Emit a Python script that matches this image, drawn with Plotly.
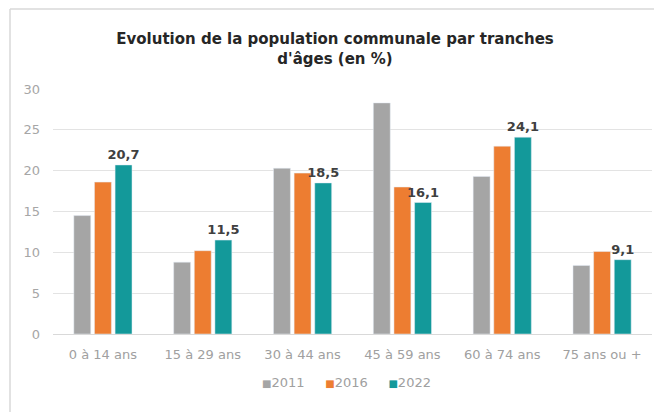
import plotly.graph_objects as go

categories = ["0 à 14 ans", "15 à 29 ans", "30 à 44 ans", "45 à 59 ans", "60 à 74 ans", "75 ans ou +"]
v2011 = [14.5, 8.8, 20.3, 28.3, 19.3, 8.4]
v2016 = [18.6, 10.2, 19.7, 18.0, 23.0, 10.1]
v2022 = [20.7, 11.5, 18.5, 16.1, 24.1, 9.1]
labels2022 = ["20,7", "11,5", "18,5", "16,1", "24,1", "9,1"]
series_names = ["2011", "2016", "2022"]
colors = ["#a5a5a5", "#ed7d31", "#13999a"]
yticks = [0, 5, 10, 15, 20, 25, 30]

FONT = "DejaVu Sans"
OFF = 8  # page body margin

fig = go.Figure()
fig.add_bar(x=categories, y=v2011, name=series_names[0], marker_color=colors[0])
fig.add_bar(x=categories, y=v2016, name=series_names[1], marker_color=colors[1])
fig.add_bar(x=categories, y=v2022, name=series_names[2], marker_color=colors[2],
            text=labels2022, textposition="outside", cliponaxis=False, constraintext="none",
            textfont=dict(family=FONT, size=13, color="#404040", weight="bold"))

W, H = 662 - OFF, 412 - OFF
L, R = 53 - OFF, W - (652 - OFF)
T, B = 89 - OFF, H - (334 - OFF)
pw, ph = W - L - R, H - T - B

def px_x(px):
    return (px - OFF - L) / pw

def px_y(py):
    return (H - B - (py - OFF)) / ph

legend_text = "     ".join(
    f"<span style='color:{c};font-size:10px'>■</span>{n}" for n, c in zip(series_names, colors)
)

fig.update_layout(
    width=W, height=H,
    margin=dict(l=L, r=R, t=T, b=B),
    paper_bgcolor="white", plot_bgcolor="white",
    barmode="group", bargap=0.38, bargroupgap=0.18,
    showlegend=False,
    font=dict(family=FONT, color="#8c8c8c", size=12),
    title=dict(text="<b>Evolution de la population communale par tranches<br>d'âges (en %)</b>",
               x=0.5, xanchor="center", y=1 - (44 - OFF) / H, yanchor="middle",
               font=dict(family=FONT, size=15, color="#262626")),
    xaxis=dict(showgrid=False, showline=True, linecolor="#d9d9d9", ticks="",
               ticklabelstandoff=8,
               tickfont=dict(family=FONT, size=13, color="#a0a0a0")),
    yaxis=dict(range=[0, 30], tickvals=yticks, showgrid=True, gridcolor="#e3e3e3",
               zeroline=False, showline=False, ticks="", ticklabelstandoff=12,
               tickfont=dict(family=FONT, size=13, color="#a6a6a6")),
    annotations=[
        dict(text=legend_text, xref="paper", yref="paper", x=px_x(346), y=px_y(382),
             xanchor="center", yanchor="middle", showarrow=False,
             font=dict(family=FONT, size=13, color="#a0a0a0")),
    ],
    shapes=[
        dict(type="line", xref="paper", yref="paper", x0=px_x(10), x1=px_x(662),
             y0=px_y(9), y1=px_y(9), line=dict(color="#d9d9d9", width=1.5)),
        dict(type="line", xref="paper", yref="paper", x0=px_x(10), x1=px_x(10),
             y0=px_y(9), y1=px_y(412), line=dict(color="#d9d9d9", width=1.5)),
    ],
)

fig.write_html("out.html")
